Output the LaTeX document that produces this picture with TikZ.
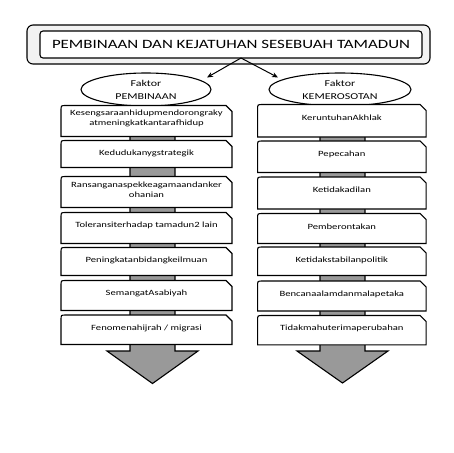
\documentclass[tikz,border=0pt]{standalone}
\usepackage{fontspec}
\setmainfont{Carlito}[FakeStretch=1.33]
\usetikzlibrary{shapes.geometric,arrows.meta,calc}

\tikzset{every picture/.style={line width=1pt}}
\tikzset{
  faktor/.style={inner sep=0pt,minimum width=170pt},
  faktortext/.style={inner sep=0pt,align=center,font=\fontsize{8}{10.5}\selectfont},
  boxline/.style={draw=black,line width=1.1pt,fill=white},
  shaft/.style={draw=black,line width=1.1pt,fill=black!40},
  faktorellipse/.style={ellipse,draw,line width=1.1pt,inner sep=0pt,minimum height=33pt,align=center,font=\fontsize{9}{13}\selectfont},
  split/.style={-{Stealth[length=6pt,width=5pt]},line width=1pt}
}

\begin{document}
\begin{tikzpicture}[x=1pt,y=1pt,yscale=-1,xscale=1]
	\useasboundingbox (0,0) rectangle (453,453);
	
	%Shape: Title frame
	\node[draw,line width=1.1pt,rounded corners=6pt,fill=black!5,minimum width=403pt,minimum height=39pt] (outer) at (228.5,44.5) {};
	% Text Node
	\node[draw,line width=1.1pt,rounded corners=3pt,fill=white,minimum width=382pt,minimum height=27pt,font=\fontsize{12.7}{14}\selectfont] (title) at (231,44.5) {PEMBINAAN DAN KEJATUHAN SESEBUAH TAMADUN};
	
	%Shape: Ellipses
	\node[faktorellipse,minimum width=130pt] (pembinaan) at (146,89.5) {Faktor\\PEMBINAAN};
	\node[faktorellipse,minimum width=142pt] (kemerosotan) at (340,89.5) {Faktor\\KEMEROSOTAN};
	
	%Straight Lines: split arrows
	\coordinate (fork) at (241,58);
	\coordinate (lefttip) at ($(pembinaan.center)+(61,-12)$);
	\coordinate (righttip) at ($(kemerosotan.center)+(-62,-12)$);
	\draw[split] (fork) -- (lefttip);
	\draw[split] (fork) -- (righttip);
	
	%Shape: Down arrows behind the boxes
	\draw[shaft] (130,125) -- (175,125) -- (175,351) -- (198,351) -- (152.5,383.5) -- (107,351) -- (130,351) -- cycle;
	\draw[shaft] (320,125) -- (365,125) -- (365,351) -- (388,351) -- (342.5,383) -- (297,351) -- (320,351) -- cycle;
	
	%Shape: Faktor pembinaan
	\foreach \t/\b/\txt [count=\i] in {106/136/{Kesengsaraanhidupmendorongraky\\atmeningkatkantarafhidup},141/167/{Kedudukanygstrategik},177/207/{Ransanganaspekkeagamaandanker\\ohanian},213/243/{Toleransiterhadap tamadun2 lain},248/275/{Peningkatanbidangkeilmuan},281/310/{SemangatAsabiyah},315.5/344/{Fenomenahijrah / migrasi}}{
		\node[faktor,minimum height={(\b-\t)*1pt}] (L\i) at (146.5,{(\t+\b)/2}) {};
		\draw[boxline] (L\i.south west) -- ($(L\i.north west)+(0,5)$) .. controls (L\i.north west) .. ($(L\i.north west)+(5,0)$) -- ($(L\i.north east)+(-6,0)$) -- ($(L\i.north east)+(0,6)$) -- (L\i.south east) -- cycle;
		% Text Node
		\node[faktortext] (Lt\i) at ($(L\i.north)+(0,13)$) {\txt};
	}
	
	%Shape: Faktor kemerosotan
	\foreach \t/\b/\txt [count=\i] in {105/136.5/{KeruntuhanAkhlak},141.5/172/{Pepecahan},177.5/208.5/{Ketidakadilan},214/243/{Pemberontakan},247.5/275/{Ketidakstabilanpolitik},281.5/310.5/{Bencanaalamdanmalapetaka},316/344.3/{Tidakmahuterimaperubahan}}{
		\node[faktor,minimum width=167.5pt,minimum height={(\b-\t)*1pt}] (R\i) at (341.8,{(\t+\b)/2}) {};
		\draw[boxline] (R\i.south west) -- ($(R\i.north west)+(0,5)$) .. controls (R\i.north west) .. ($(R\i.north west)+(5,0)$) -- ($(R\i.north east)+(-6,0)$) -- ($(R\i.north east)+(0,6)$) -- (R\i.south east) -- cycle;
		% Text Node
		\node[faktortext] (Rt\i) at ($(R\i.north)+(0,13)$) {\txt};
	}
	
\end{tikzpicture}
\end{document}
